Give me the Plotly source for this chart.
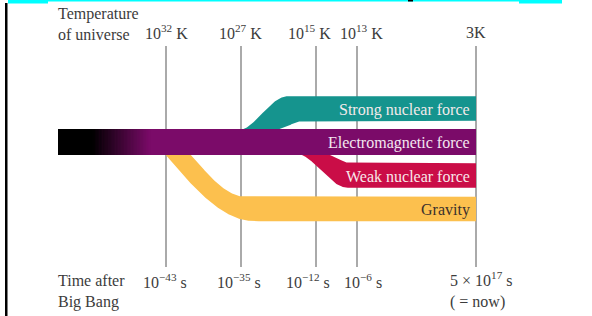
import numpy as np
import plotly.graph_objects as go

# ---------------- data ----------------
forces = ["Strong nuclear force", "Electromagnetic force", "Weak nuclear force", "Gravity"]
force_lane = [-1, 0, 1, 2]          # lane relative to the unified band (0 = unified / EM)
temperature_labels = ["10<sup>32</sup> K", "10<sup>27</sup> K", "10<sup>15</sup> K",
                      "10<sup>13</sup> K", "3K"]
time_labels = ["10<sup>−43</sup> s", "10<sup>−35</sup> s", "10<sup>−12</sup> s",
               "10<sup>−6</sup> s", "5 × 10<sup>17</sup> s<br>( = now)"]
temp_title = "Temperature<br>of universe"
time_title = "Time after<br>Big Bang"

# ---------------- layout / style constants ----------------
W, H = 592, 316
epoch_x = [166, 241, 316, 357, 476]
temp_label_dx = [0, -1, -7, 4, 0]
time_label_dx = [-1, -2, -8, 6, 0]
line_top, line_bottom = 46, 267
band_left = 58
lane0_y = 142
lane_gap = 33.5
half_band = 12.2
em_half = 13
# x-extent of the outer / inner edge transitions, and easing kind
branch_shape = {
    "Strong nuclear force": dict(outer=(236, 288), inner=(270, 306), ease="cos"),
    "Weak nuclear force": dict(outer=(294, 348), inner=(322, 352), ease="cos"),
    "Gravity": dict(outer=(164, 255), inner=(190, 246), ease="sin"),
}
colors = {"Strong nuclear force": "#15948e",
          "Electromagnetic force": "#7b0b69",
          "Weak nuclear force": "#ca0d47",
          "Gravity": "#fcc04e"}
label_colors = {"Strong nuclear force": "#f3eaea",
                "Electromagnetic force": "#f3e6ef",
                "Weak nuclear force": "#f8e8ea",
                "Gravity": "#3a302c"}
font_family = "Liberation Serif"
text_color = "#3c3c3c"
fs = 16


def ease(t, kind):
    t = np.clip(t, 0, 1)
    if kind == "sin":
        return np.sin(np.pi / 2 * t)
    return (1 - np.cos(np.pi * t)) / 2


def edge(xs, x0, x1, y_from, y_to, kind):
    return y_from + (y_to - y_from) * ease((xs - x0) / (x1 - x0), kind)


fig = go.Figure()

# branching bands, drawn as filled ribbons
for name, lane in zip(forces, force_lane):
    if lane == 0:
        continue
    sh = branch_shape[name]
    sign = np.sign(lane)
    centre = lane0_y + lane * lane_gap
    start_y = lane0_y + sign * (em_half - 2)           # hidden just inside the unified band
    outer_y = centre + sign * half_band
    inner_y = centre - sign * half_band
    x_start = min(sh["outer"][0], sh["inner"][0])
    xs = np.linspace(x_start, epoch_x[-1], 400)
    y_out = edge(xs, *sh["outer"], start_y, outer_y, sh["ease"])
    y_in = edge(xs, *sh["inner"], start_y, inner_y, sh["ease"])
    px = np.concatenate([xs, xs[::-1]])
    py = np.concatenate([y_out, y_in[::-1]])
    fig.add_trace(go.Scatter(x=px, y=py, mode="lines", fill="toself",
                             fillcolor=colors[name], line=dict(width=0, color=colors[name]),
                             hoverinfo="skip", showlegend=False))

shapes = []
# vertical epoch lines
for ex in epoch_x:
    shapes.append(dict(type="line", x0=ex, x1=ex, y0=line_top, y1=line_bottom,
                       line=dict(color="#8e8e8e", width=1.5), layer="below"))

# unified / electromagnetic band with black -> purple gradient
em_col = colors["Electromagnetic force"]
shapes.append(dict(type="rect", x0=band_left, x1=epoch_x[-1],
                   y0=lane0_y - em_half, y1=lane0_y + em_half,
                   fillcolor=em_col, line=dict(width=0), layer="above"))
r1, g1, b1 = int(em_col[1:3], 16), int(em_col[3:5], 16), int(em_col[5:7], 16)
g_start, g_end = 92, 150
shapes.append(dict(type="rect", x0=band_left, x1=g_start + 0.5,
                   y0=lane0_y - em_half, y1=lane0_y + em_half,
                   fillcolor="#000000", line=dict(width=0), layer="above"))
nsl = 40
for i in range(nsl):
    xa = g_start + (g_end - g_start) * i / nsl
    xb = g_start + (g_end - g_start) * (i + 1) / nsl
    f = (i + 0.5) / nsl
    col = "rgb(%d,%d,%d)" % (r1 * f, g1 * f, b1 * f)
    shapes.append(dict(type="rect", x0=xa, x1=xb + 0.6,
                       y0=lane0_y - em_half, y1=lane0_y + em_half,
                       fillcolor=col, line=dict(width=0), layer="above"))

# page decorations (cyan strip on top, black rule on left)
shapes += [
    dict(type="rect", x0=8, x1=48, y0=0, y1=3.5, fillcolor="#00ffff", line=dict(width=0)),
    dict(type="rect", x0=48, x1=520, y0=0, y1=1.5, fillcolor="#00ffff", line=dict(width=0)),
    dict(type="rect", x0=519, x1=562, y0=0, y1=3.5, fillcolor="#00ffff", line=dict(width=0)),
    dict(type="rect", x0=408, x1=413, y0=0, y1=1.5, fillcolor="#000000", line=dict(width=0)),
    dict(type="rect", x0=5, x1=7.5, y0=3, y1=H, fillcolor="#000000", line=dict(width=0)),
]

ann = []
# band labels
for name, lane in zip(forces, force_lane):
    ann.append(dict(x=472, y=lane0_y + lane * lane_gap + 1, text=name, showarrow=False,
                    xanchor="right", yanchor="middle",
                    font=dict(family=font_family, size=fs, color=label_colors[name])))
# titles
ann.append(dict(x=56, y=24, text=temp_title, showarrow=False, xanchor="left", yanchor="middle",
                align="left", font=dict(family=font_family, size=fs, color=text_color)))
ann.append(dict(x=56, y=291, text=time_title, showarrow=False, xanchor="left", yanchor="middle",
                align="left", font=dict(family=font_family, size=fs, color=text_color)))
# temperature labels
for ex, dx, lab in zip(epoch_x, temp_label_dx, temperature_labels):
    ann.append(dict(x=ex + dx, y=32, text=lab, showarrow=False, xanchor="center",
                    yanchor="middle",
                    font=dict(family=font_family, size=fs, color=text_color)))
# time labels
for i, (ex, dx, lab) in enumerate(zip(epoch_x, time_label_dx, time_labels)):
    if i == len(epoch_x) - 1:
        ann.append(dict(x=448, y=290, text=lab, showarrow=False, xanchor="left",
                        yanchor="middle", align="left",
                        font=dict(family=font_family, size=fs, color=text_color)))
    else:
        ann.append(dict(x=ex + dx, y=281, text=lab, showarrow=False, xanchor="center",
                        yanchor="middle",
                        font=dict(family=font_family, size=fs, color=text_color)))

fig.update_layout(
    width=W, height=H, margin=dict(l=0, r=0, t=0, b=0),
    paper_bgcolor="white", plot_bgcolor="white",
    xaxis=dict(range=[0, W], visible=False, fixedrange=True),
    yaxis=dict(range=[H, 0], visible=False, fixedrange=True),
    shapes=shapes, annotations=ann, showlegend=False,
)
fig.write_html("out.html",
               config={"displayModeBar": False, "staticPlot": True},
               post_script="document.body.style.margin='0';document.body.style.overflow='hidden';")
